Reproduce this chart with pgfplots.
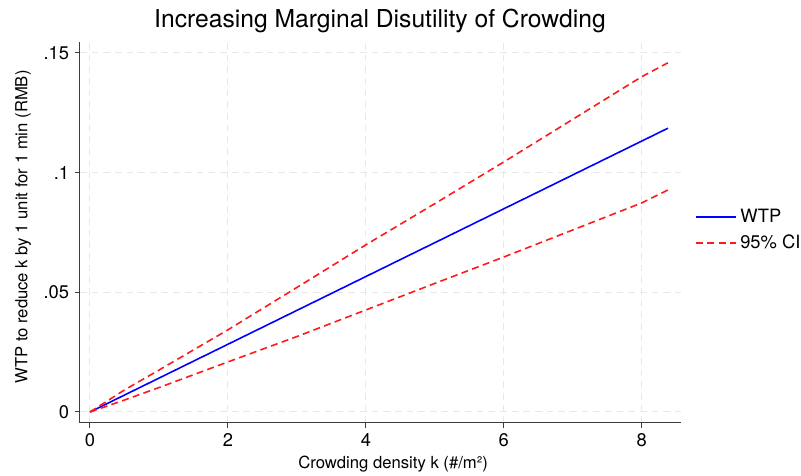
\documentclass[border=0pt]{standalone}
\usepackage{pgfplots}
\pgfplotsset{compat=1.18}
\usetikzlibrary{calc}
\usepackage{fontspec}
\setmainfont{TeX Gyre Heros}
\definecolor{gridc}{RGB}{232,232,232}
\definecolor{axc}{RGB}{60,60,60}
\begin{document}
\begin{tikzpicture}[x=1pt,y=1pt]
\begin{axis}[
  scale only axis,
  width=360.6pt, height=228.6pt,
  xmin=-0.145, xmax=8.57,
  ymin=-0.0046, ymax=0.1545,
  axis x line*=bottom, axis y line*=left,
  axis line style={axc, line width=0.6pt, -},
  xtick={0,2,4,6,8},
  ytick={0,0.05,0.1,0.15},
  yticklabels={0,.05,.1,.15},
  scaled y ticks=false,
  tick align=outside,
  major tick length=3pt,
  tick style={axc, line width=0.6pt},
  /pgf/number format/assume math mode=true,
  ticklabel style={font=\fontsize{11}{13}\selectfont, text=black},
  grid=major,
  major grid style={gridc, dash pattern=on 4pt off 3pt, line width=0.6pt},
  xlabel={Crowding density k (\#/m²)},
  ylabel={WTP to reduce k by 1 unit for 1 min (RMB)},
  label style={font=\fontsize{10.5}{12}\selectfont},
  every axis x label/.style={at={(rel axis cs:0.521,-0.108)}, anchor=center},
  every axis y label/.style={at={(rel axis cs:-0.0948,0.514)}, anchor=center, rotate=90},
  legend style={at={(rel axis cs:1.015,0.507)}, anchor=west, draw=none, fill=none,
    font=\fontsize{11}{13}\selectfont, row sep=2pt},
  legend cell align=left,
  legend image code/.code={\draw[mark repeat=2,mark phase=2,#1] plot coordinates {(0pt,0pt) (24pt,0pt)};},
]
\coordinate (sw) at (rel axis cs:0,0);
\addplot[color=blue, line width=0.95pt] coordinates {
(0,0) (1,0.01414) (2,0.02828) (3,0.04242) (4,0.05656) (5,0.0707) (6,0.08484) (7,0.09898) (8,0.11312) (8.38,0.1185)
};
\addlegendentry{WTP}
\addplot[color=red!90!white, line width=0.95pt, dash pattern=on 4.2pt off 2.6pt] coordinates {
(0,0) (0.5,0.0092) (1,0.0175) (2,0.0343) (3,0.0520) (4,0.0698) (5,0.0870) (6,0.1044) (7,0.1222) (8,0.1400) (8.38,0.1458)
};
\addlegendentry{95\% CI}
\addplot[color=red!90!white, line width=0.95pt, dash pattern=on 4.2pt off 2.6pt, forget plot] coordinates {
(0,0) (0.5,0.0050) (1,0.0102) (2,0.0209) (3,0.0315) (4,0.0426) (5,0.0537) (6,0.0647) (7,0.0760) (8,0.0873) (8.38,0.0927)
};
\end{axis}
\node[font=\fontsize{14.8}{17}\selectfont, anchor=base] at ($(sw)+(180pt,237pt)$) {Increasing Marginal Disutility of Crowding};
\pgfresetboundingbox
\path (sw) ++(-48pt,-31.8pt) rectangle ++(480.6pt,285.6pt);
\end{tikzpicture}
\end{document}
